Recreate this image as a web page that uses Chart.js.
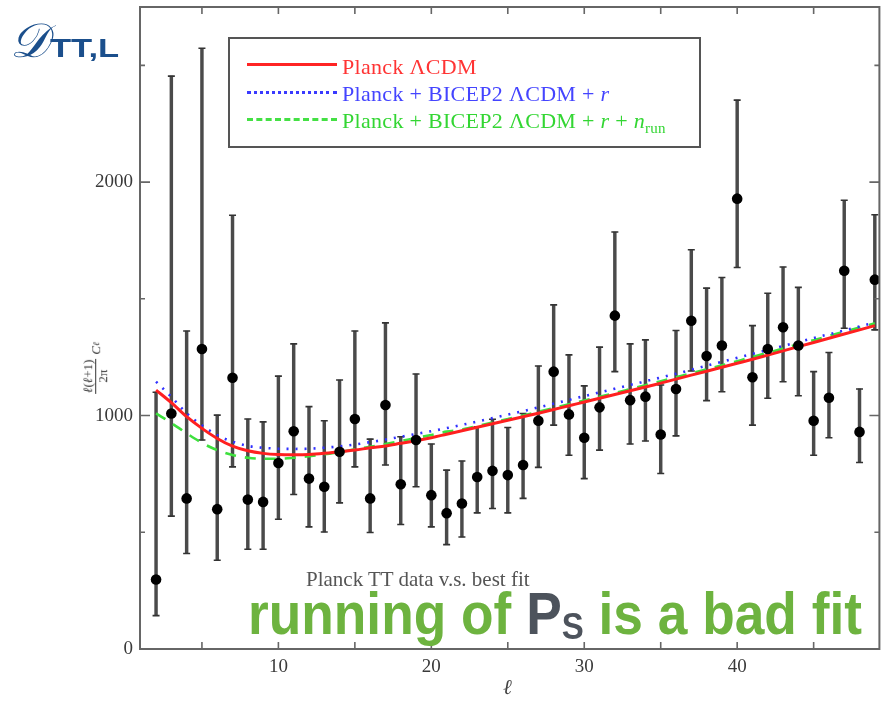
<!DOCTYPE html>
<html>
<head>
<meta charset="utf-8">
<script src="https://cdn.jsdelivr.net/npm/chart.js"></script>
<style>
  html, body { margin: 0; padding: 0; background: #fff; }
  body { width: 885px; height: 705px; position: relative; overflow: hidden; }
  #plot { position: absolute; left: 0; top: 0; width: 885px; height: 705px; filter: blur(0.6px); }
  #c { position: absolute; left: 0; top: 0; }
  .serif { font-family: "Liberation Serif", "DejaVu Serif", serif; }
  #legendBox { position: absolute; left: 228px; top: 37px; width: 473px; height: 111px;
               border: 2px solid #555; box-sizing: border-box; }
  .swatch { position: absolute; left: 247px; width: 90px; height: 0; }
  .ltext { position: absolute; left: 342px; font-size: 22px; line-height: 1; white-space: nowrap; letter-spacing: 0.3px; }
  #caption { position: absolute; left: 306px; top: 569px; font-size: 21px; color: #555; white-space: nowrap; line-height: 1; }
  #xtitle { position: absolute; left: 503px; top: 677px; font-size: 21px; font-style: italic; color: #444; line-height: 1; }
  #ytitle { position: absolute; left: 96px; top: 368px; transform: translate(-50%, -50%) rotate(-90deg);
            font-size: 13px; color: #333; white-space: nowrap; display: flex; align-items: center; }
  .frac { display: inline-flex; flex-direction: column; align-items: center; margin-right: 4px; }
  .frac .num { border-bottom: 1px solid #333; padding: 0 1px; line-height: 1.1; }
  .frac .den { line-height: 1.1; }
  #dlabel { position: absolute; left: 10px; top: 16px; color: #1b4f8c; white-space: nowrap; line-height: 1; }
  #dlabel .d { font-family: "DejaVu Serif", "Liberation Serif", serif; font-style: italic; font-size: 48px; }
  #dlabel .sub { font-family: "Liberation Sans", Arial, sans-serif; font-weight: bold; font-size: 26px;
                 display: inline-block; transform: scaleX(1.33); transform-origin: left bottom; margin-left: 2px; }
  #note { position: absolute; left: 248px; top: 584px; font-family: "Liberation Sans Narrow", "Liberation Sans", Arial, sans-serif;
          font-weight: bold; font-size: 60px; color: #6db33f; white-space: nowrap; line-height: 1; transform-origin: left top; }
  #note .p { color: #4d535c; }
  #note sub { font-size: 0.62em; vertical-align: -0.14em; color: #4d535c; }
</style>
</head>
<body>
<div id="plot">
  <canvas id="c" width="885" height="705"></canvas>
  <div id="legendBox"></div>
  <div class="swatch" style="top:63px; border-top:3px solid #ff2424;"></div>
  <div class="swatch" style="top:91px; border-top:3px dotted #3a3aff;"></div>
  <div class="swatch" style="top:118px; border-top:3px dashed #44e044;"></div>
  <div class="ltext serif" style="top:56px; color:#ff3434;">Planck ΛCDM</div>
  <div class="ltext serif" style="top:83px; color:#4444ff;">Planck + BICEP2 ΛCDM + <i>r</i></div>
  <div class="ltext serif" style="top:110px; color:#33d633;">Planck + BICEP2 ΛCDM + <i>r</i> + <i>n</i><sub style="font-size:15px">run</sub></div>
  <div id="caption" class="serif">Planck TT data v.s. best fit</div>
  <div id="xtitle" class="serif">ℓ</div>
  <div id="ytitle" class="serif">
    <span class="frac"><span class="num"><i>ℓ</i>(<i>ℓ</i>+1)</span><span class="den">2π</span></span><i>C</i><sub style="font-size:9px"><i>ℓ</i></sub>
  </div>
</div>
<div id="dlabel"><span class="d">𝒟</span><span class="sub">TT,L</span></div>
<div id="note">running of <span class="p">P<sub>S</sub></span> is a bad fit</div>

<script>
// Multipoles of the low-ℓ TT spectrum
const ells = [2, 3, 4, 5, 6, 7, 8, 9, 10, 11, 12, 13, 14, 15, 16, 17, 18, 19, 20, 21, 22, 23, 24, 25,
              26, 27, 28, 29, 30, 31, 32, 33, 34, 35, 36, 37, 38, 39, 40, 41, 42, 43, 44, 45, 46, 47, 48, 49];

// Planck TT band powers ℓ(ℓ+1)C_ℓ/2π with lower / upper error limits
const dataTT = [298, 1009, 645, 1285, 599, 1162, 640, 630, 797, 933, 730, 695, 845, 985, 645, 1045,
                706, 895, 659, 582, 623, 737, 763, 745, 788, 978, 1188, 1005, 905, 1035, 1428, 1066,
                1081, 919, 1114, 1406, 1255, 1300, 1929, 1164, 1285, 1378, 1300, 978, 1076, 1620, 930, 1582];
const errLow = [143, 569, 409, 895, 380, 780, 427, 427, 556, 662, 523, 501, 626, 780, 499, 788,
                533, 695, 523, 447, 480, 583, 602, 583, 645, 778, 959, 830, 730, 852, 1188, 878,
                891, 752, 913, 1191, 1064, 1102, 1634, 959, 1074, 1145, 1085, 830, 905, 1374, 799, 1367];
const errHigh = [1100, 2454, 1362, 2573, 1002, 1858, 985, 973, 1169, 1307, 1038, 978, 1152, 1362, 899, 1397,
                 909, 1178, 878, 766, 805, 952, 984, 949, 1009, 1212, 1474, 1260, 1127, 1293, 1786, 1307,
                 1324, 1131, 1364, 1710, 1546, 1591, 2351, 1385, 1524, 1636, 1549, 1188, 1270, 1922, 1114, 1860];

// Best-fit model spectra
const planckLCDM = [1109, 1055, 995, 945, 902, 869, 849, 838, 833, 832, 833, 838, 845, 852, 862, 870,
                    881, 892, 905, 920, 935, 950, 965, 980, 995, 1010, 1026, 1042, 1058, 1074, 1090, 1106,
                    1122, 1139, 1156, 1173, 1190, 1207, 1224, 1241, 1259, 1277, 1295, 1313, 1331, 1349, 1367, 1385];
const bicepR = [1145, 1080, 1010, 958, 916, 888, 870, 862, 858, 857, 858, 862, 868, 876, 886, 897,
                909, 921, 933, 946, 960, 974, 989, 1004, 1019, 1035, 1051, 1067, 1083, 1099, 1115, 1131,
                1147, 1163, 1179, 1196, 1213, 1230, 1247, 1264, 1281, 1298, 1315, 1332, 1348, 1364, 1381, 1398];
const bicepRunning = [1009, 968, 924, 883, 852, 831, 819, 815, 815, 819, 826, 834, 844, 855, 866, 878,
                      891, 904, 917, 931, 940, 955, 970, 985, 1000, 1016, 1032, 1048, 1064, 1080, 1096, 1113,
                      1130, 1147, 1164, 1181, 1198, 1215, 1233, 1251, 1269, 1287, 1305, 1323, 1341, 1359, 1377, 1395];

// Axis ticks and their labels (empty label = minor tick)
const xTickValues = [5, 10, 15, 20, 25, 30, 35, 40, 45];
const xTickLabels = ['', '10', '', '20', '', '30', '', '40', ''];
const yTickValues = [0, 500, 1000, 1500, 2000, 2500];
const yTickLabels = ['0', '', '1000', '', '2000', ''];

const pts = arr => ells.map((l, i) => ({ x: l, y: arr[i] }));

// Box frame with inward tick marks on all four sides
const framePlugin = {
  id: 'frame',
  afterDraw(chart) {
    const { ctx, chartArea: a, scales: { x, y } } = chart;
    ctx.save();
    ctx.strokeStyle = '#666';
    ctx.lineWidth = 2;
    ctx.strokeRect(a.left, a.top, a.right - a.left, a.bottom - a.top);
    ctx.lineWidth = 1.6;
    ctx.beginPath();
    xTickValues.forEach(v => {
      const px = x.getPixelForValue(v);
      ctx.moveTo(px, a.bottom); ctx.lineTo(px, a.bottom - 7);
      ctx.moveTo(px, a.top); ctx.lineTo(px, a.top + 7);
    });
    yTickValues.forEach((v, i) => {
      const py = y.getPixelForValue(v);
      const len = yTickLabels[i] ? 10 : 5;
      ctx.moveTo(a.left, py); ctx.lineTo(a.left + len, py);
      ctx.moveTo(a.right, py); ctx.lineTo(a.right - len, py);
    });
    ctx.stroke();
    ctx.restore();
  }
};

const tickFont = { family: '"Liberation Serif", "DejaVu Serif", serif', size: 19 };

new Chart(document.getElementById('c'), {
  type: 'line',
  data: {
    datasets: [
      { type: 'scatter', label: 'Planck TT', data: pts(dataTT), pointRadius: 5.3, pointHoverRadius: 5.3,
        backgroundColor: '#000', borderWidth: 0, showLine: false, order: 0 },
      { label: 'Planck ΛCDM', data: pts(planckLCDM), borderColor: '#ff2020', borderWidth: 3,
        pointRadius: 0, cubicInterpolationMode: 'monotone', order: 1 },
      { label: 'Planck + BICEP2 ΛCDM + r', data: pts(bicepR), borderColor: '#3030ff', borderWidth: 2.6,
        borderDash: [2, 7], pointRadius: 0, cubicInterpolationMode: 'monotone', order: 2 },
      { label: 'Planck + BICEP2 ΛCDM + r + n_run', data: pts(bicepRunning), borderColor: '#3ee03e', borderWidth: 2.6,
        borderDash: [11, 9], pointRadius: 0, cubicInterpolationMode: 'monotone', order: 3 },
      { type: 'scatter', label: 'upper caps', data: pts(errHigh), pointStyle: 'line', pointRadius: 3.5,
        borderColor: '#333', borderWidth: 1.6, showLine: false, order: 4 },
      { type: 'scatter', label: 'lower caps', data: pts(errLow), pointStyle: 'line', pointRadius: 3.5,
        borderColor: '#333', borderWidth: 1.6, showLine: false, order: 4 },
      { type: 'bar', label: 'errors', data: ells.map((l, i) => ({ x: l, y: [errLow[i], errHigh[i]] })),
        backgroundColor: '#4a4a4a', barThickness: 2.8, order: 5 }
    ]
  },
  options: {
    responsive: false,
    animation: false,
    devicePixelRatio: 1,
    layout: { padding: { top: 7, right: 4, left: 0, bottom: 0 } },
    plugins: { legend: { display: false }, tooltip: { enabled: false } },
    scales: {
      x: {
        type: 'linear', min: 0.95, max: 49.3, offset: false,
        grid: { display: false, drawTicks: false }, border: { display: false },
        afterBuildTicks: s => { s.ticks = xTickValues.map(v => ({ value: v })); },
        afterFit: s => { s.height = 56; s.paddingLeft = 0; s.paddingRight = 0; },
        ticks: { autoSkip: false, maxRotation: 0, padding: 7, color: '#3a3a3a', font: tickFont,
                 callback: (v) => xTickLabels[xTickValues.indexOf(v)] ?? '' }
      },
      y: {
        type: 'linear', min: 0, max: 2750,
        grid: { display: false, drawTicks: false }, border: { display: false },
        afterBuildTicks: s => { s.ticks = yTickValues.map(v => ({ value: v })); },
        afterFit: s => { s.width = 140; s.paddingTop = 0; s.paddingBottom = 0; },
        ticks: { autoSkip: false, padding: 7, color: '#3a3a3a', font: tickFont,
                 callback: (v) => yTickLabels[yTickValues.indexOf(v)] ?? '' }
      }
    }
  },
  plugins: [framePlugin]
});

// Stretch the annotation line to span its column
const note = document.getElementById('note');
const w = note.getBoundingClientRect().width;
note.style.transform = 'scaleX(' + (614 / w) + ')';
</script>
</body>
</html>
